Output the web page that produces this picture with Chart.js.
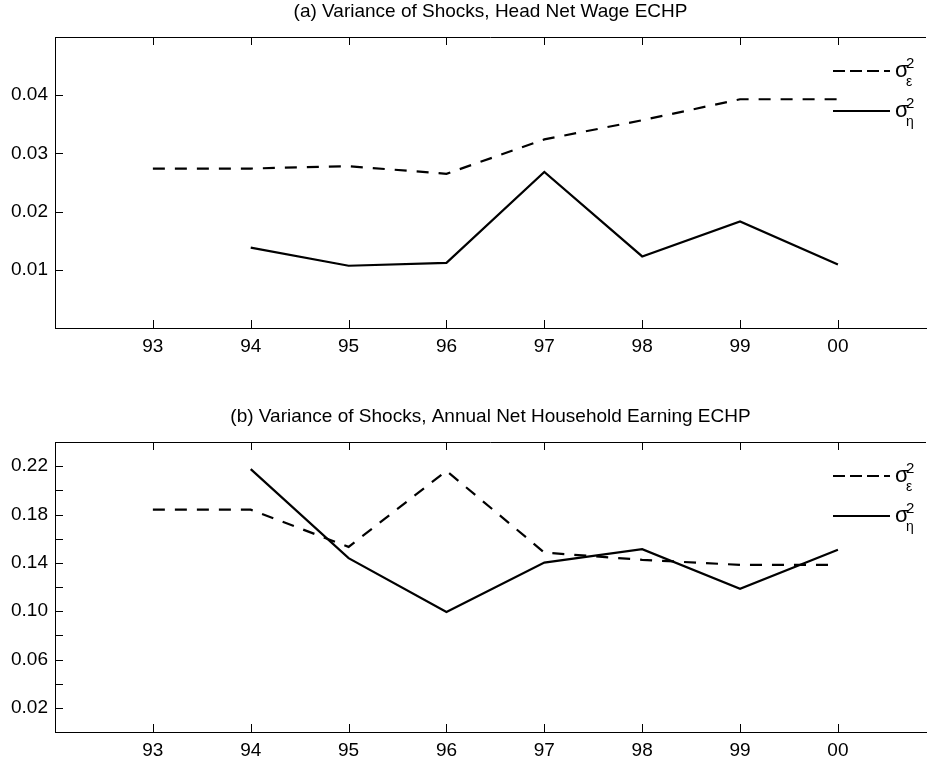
<!DOCTYPE html>
<html lang="en">
<head>
<meta charset="UTF-8">
<title>Variance of Shocks ECHP</title>
<script src="https://cdn.jsdelivr.net/npm/chart.js"></script>
<style>
    body { margin: 0; background: #fff; }
    .panel { position: absolute; left: 0; width: 927px; }
    #top { top: 0; height: 380px; }
    #bottom { top: 405px; height: 358px; }
</style>
</head>
<body>
<div class="panel" id="top"><canvas id="chartA"></canvas></div>
<div class="panel" id="bottom"><canvas id="chartB"></canvas></div>
<script>
// years 1993..2000, shown as two-digit labels
const years = [93, 94, 95, 96, 97, 98, 99, 100];
const yearLabels = ['93', '94', '95', '96', '97', '98', '99', '00'];

// (a) head net wage
const wageEps = [0.0274, 0.0274, 0.0278, 0.0265, 0.0324, 0.0357, 0.0393, 0.0393];
const wageEta = [null, 0.0138, 0.0107, 0.0112, 0.0268, 0.0123, 0.0183, 0.0109];
const wageYTicks = [0.01, 0.02, 0.03, 0.04];
const wageYLabels = ['0.01', '0.02', '0.03', '0.04'];

// (b) annual net household earning
const earnEps = [0.184, 0.184, 0.1532, 0.2161, 0.1485, 0.1425, 0.1383, 0.1383];
const earnEta = [null, 0.2175, 0.1439, 0.0993, 0.1402, 0.1513, 0.1185, 0.1508];
const earnYTicks = [0.02, 0.04, 0.06, 0.08, 0.10, 0.12, 0.14, 0.16, 0.18, 0.20, 0.22];
const earnYLabels = ['0.02', '', '0.06', '', '0.10', '', '0.14', '', '0.18', '', '0.22'];

const seriesNames = [['σ', 'ε'], ['σ', 'η']];

const FONT = '"Liberation Sans", Arial, Helvetica, sans-serif';

// draws title, top border, inward tick marks and the matlab-like legend
const frame = {
    id: 'frame',
    afterDraw(chart, args, opts) {
        const ctx = chart.ctx;
        const a = chart.chartArea;
        const xs = chart.scales.x, ys = chart.scales.y;
        ctx.save();
        ctx.strokeStyle = '#000';
        ctx.lineWidth = 1;
        ctx.beginPath();
        ctx.moveTo(a.left, a.top + 0.5);
        ctx.lineTo(a.right, a.top + 0.5);
        xs.ticks.forEach(t => {
            const px = Math.round(xs.getPixelForValue(t.value)) + 0.5;
            ctx.moveTo(px, a.bottom); ctx.lineTo(px, a.bottom - 8);
            ctx.moveTo(px, a.top); ctx.lineTo(px, a.top + 8);
        });
        ys.ticks.forEach(t => {
            const py = Math.round(ys.getPixelForValue(t.value)) + 0.5;
            ctx.moveTo(a.left, py); ctx.lineTo(a.left + 8, py);
        });
        ctx.stroke();

        // title
        ctx.fillStyle = '#000';
        ctx.font = '19px ' + FONT;
        ctx.textAlign = 'center';
        ctx.textBaseline = 'middle';
        ctx.fillText(opts.title, (a.left + a.right) / 2, a.top - 25);

        // legend
        chart.data.datasets.forEach((ds, i) => {
            const y = a.top + 34 + i * 40;
            ctx.beginPath();
            ctx.lineWidth = 2.2;
            ctx.setLineDash(ds.borderDash && ds.borderDash.length ? [12, 5] : []);
            ctx.moveTo(a.right - 93, y);
            ctx.lineTo(a.right - 36, y);
            ctx.stroke();
            ctx.setLineDash([]);
            ctx.textAlign = 'left';
            ctx.textBaseline = 'alphabetic';
            ctx.font = '22px ' + FONT;
            ctx.fillText(seriesNames[i][0], a.right - 31, y + 6);
            ctx.font = '15px ' + FONT;
            ctx.fillText('2', a.right - 20, y - 3);
            ctx.font = '14px ' + FONT;
            ctx.fillText(seriesNames[i][1], a.right - 20, y + 15);
        });
        ctx.restore();
    }
};

function makeChart(id, title, eps, eta, yMax, yTicks, yLabels, xHeight) {
    const xTicksCb = (v) => {
        const k = years.indexOf(v);
        return k >= 0 ? yearLabels[k] : '';
    };
    return new Chart(document.getElementById(id), {
        type: 'line',
        data: {
            datasets: [
                {
                    label: 'sigma eps',
                    data: years.map((y, i) => ({ x: y, y: eps[i] })),
                    borderColor: '#000',
                    borderWidth: 2.2,
                    borderDash: [12, 10],
                    pointRadius: 0,
                    fill: false
                },
                {
                    label: 'sigma eta',
                    data: years.map((y, i) => ({ x: y, y: eta[i] })),
                    borderColor: '#000',
                    borderWidth: 2.2,
                    pointRadius: 0,
                    fill: false,
                    spanGaps: false
                }
            ]
        },
        options: {
            responsive: true,
            maintainAspectRatio: false,
            animation: false,
            layout: { padding: { top: 37, right: 1, left: 0, bottom: 0 } },
            plugins: {
                legend: { display: false },
                tooltip: { enabled: false },
                frame: { title: title }
            },
            scales: {
                x: {
                    type: 'linear',
                    min: 92,
                    max: 100.9,
                    afterBuildTicks: (s) => { s.ticks = years.map(v => ({ value: v })); },
                    afterFit: (s) => { s.height = xHeight; },
                    grid: { display: false, drawTicks: false },
                    border: { display: true, color: '#000', width: 1 },
                    ticks: {
                        color: '#000',
                        font: { family: FONT, size: 19 },
                        padding: 7,
                        maxRotation: 0,
                        callback: xTicksCb
                    }
                },
                y: {
                    min: 0,
                    max: yMax,
                    afterBuildTicks: (s) => { s.ticks = yTicks.map(v => ({ value: v })); },
                    afterFit: (s) => { s.width = 55; },
                    grid: { display: false, drawTicks: false },
                    border: { display: true, color: '#000', width: 1 },
                    ticks: {
                        color: '#000',
                        font: { family: FONT, size: 19 },
                        padding: 7,
                        callback: (v) => {
                            const k = yTicks.findIndex(t => Math.abs(t - v) < 1e-9);
                            return k >= 0 ? yLabels[k] : '';
                        }
                    }
                }
            }
        },
        plugins: [frame]
    });
}

makeChart('chartA', '(a) Variance of Shocks, Head Net Wage ECHP',
    wageEps, wageEta, 0.05, wageYTicks, wageYLabels, 52);
makeChart('chartB', '(b) Variance of Shocks, Annual Net Household Earning ECHP',
    earnEps, earnEta, 0.24, earnYTicks, earnYLabels, 31);
</script>
</body>
</html>
